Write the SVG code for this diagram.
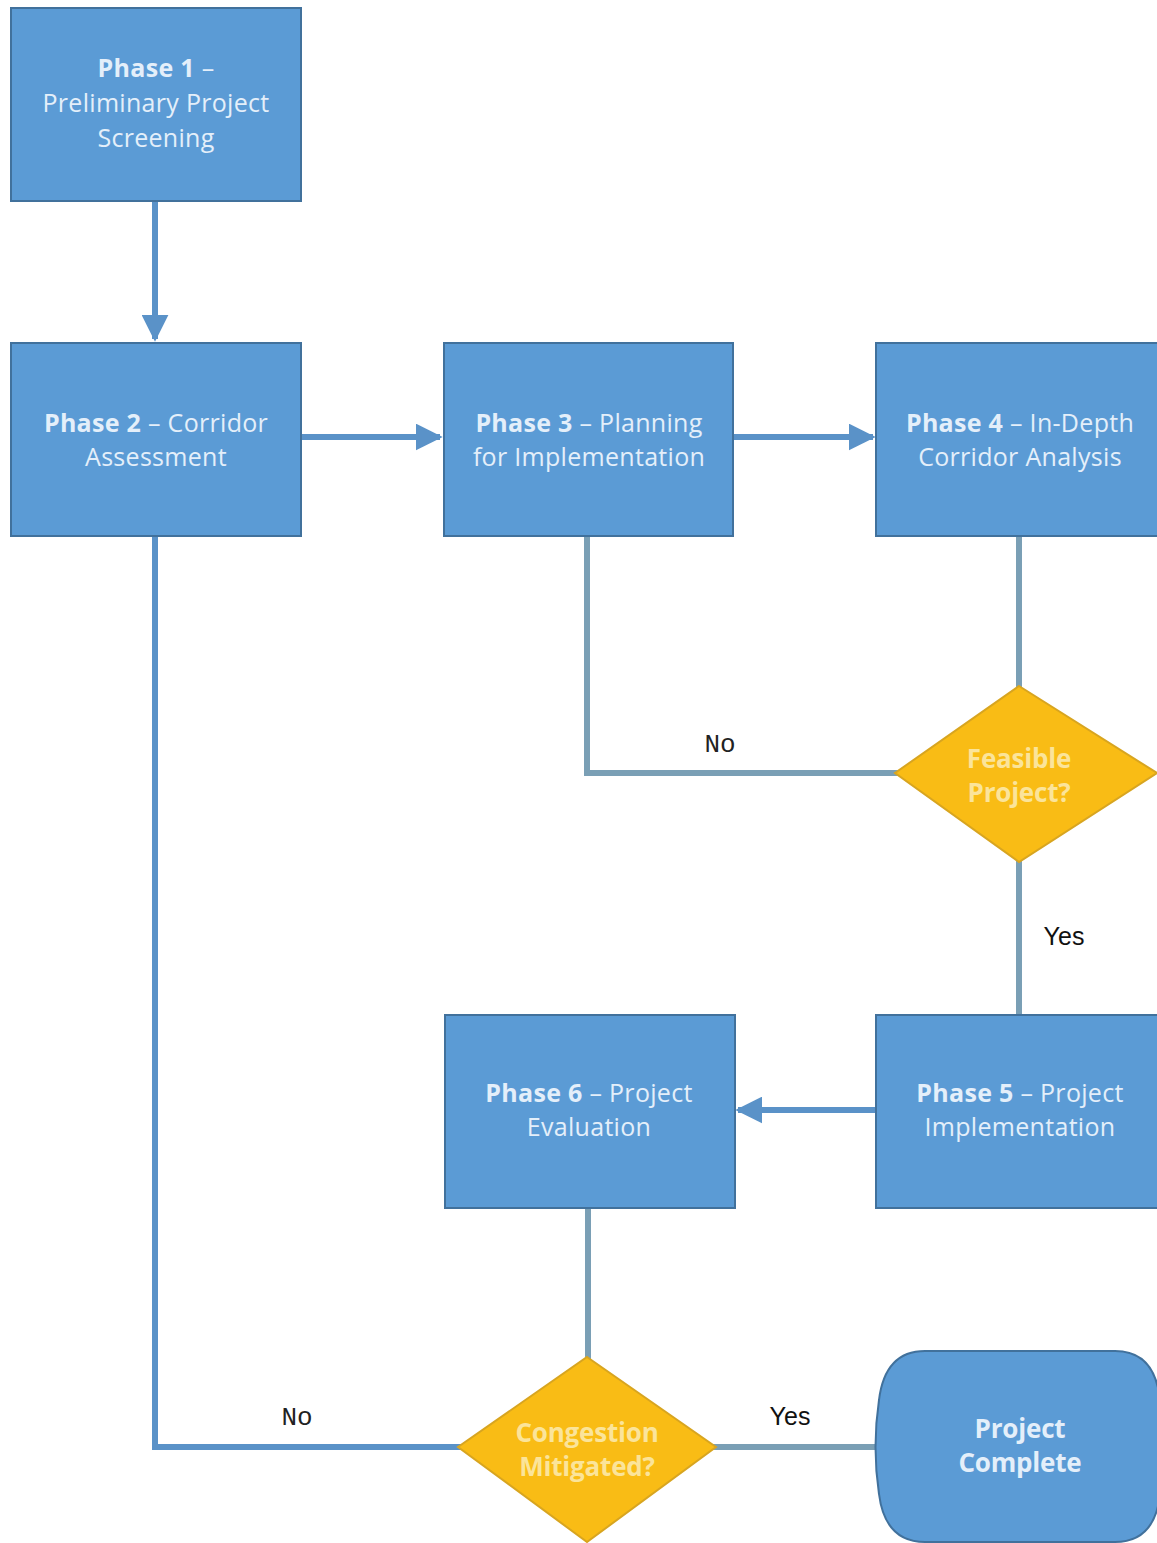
<svg xmlns="http://www.w3.org/2000/svg" width="1157" height="1543" viewBox="0 0 1157 1543">
<style>
.box{fill:#5B9BD5;stroke:#41719C;stroke-width:2}
.dia{fill:#F9BC15;stroke:#D8A520;stroke-width:2}
.t{font-family:"Open Sans","Noto Sans",sans-serif;font-size:25px;fill:#E4EFFA;text-anchor:middle;letter-spacing:0.3px}
.b{font-weight:bold}
.dt{font-family:"Open Sans","Noto Sans",sans-serif;font-size:26px;font-weight:bold;fill:#FBE49A;text-anchor:middle;letter-spacing:-0.2px}
.cb{stroke:#5A92C8;stroke-width:6;fill:none}
.cg{stroke:#7A9FB5;stroke-width:6;fill:none}
.lm{font-family:"Liberation Mono","DejaVu Sans Mono",monospace;font-size:26px;fill:#222}
.ls{font-family:"Liberation Sans",sans-serif;font-size:25px;fill:#111}
</style>
<defs>
<marker id="ah" viewBox="0 0 10 10" refX="9" refY="5" markerWidth="4.5" markerHeight="4.5" orient="auto" markerUnits="strokeWidth">
<path d="M0,0 L10,5 L0,10 z" fill="#5A92C8"/>
</marker>
</defs>
<rect width="1157" height="1543" fill="#FFFFFF"/>
<g id="connectors">
<line class="cb" x1="155" y1="201" x2="155" y2="339" marker-end="url(#ah)"/>
<line class="cb" x1="301" y1="437" x2="440" y2="437" marker-end="url(#ah)"/>
<line class="cb" x1="733" y1="437" x2="873" y2="437" marker-end="url(#ah)"/>
<line class="cg" x1="1019" y1="536" x2="1019" y2="692"/>
<polyline class="cg" points="903,773 587,773 587,536"/>
<line class="cg" x1="1019" y1="855" x2="1019" y2="1015"/>
<line class="cb" x1="876" y1="1110" x2="738" y2="1110" marker-end="url(#ah)"/>
<line class="cg" x1="588" y1="1208" x2="588" y2="1364"/>
<line class="cg" x1="708" y1="1447" x2="880" y2="1447"/>
<polyline class="cb" points="466,1447 155,1447 155,536"/>
<text class="lm" x="720" y="752" text-anchor="middle">No</text>
<text class="ls" x="1064" y="945" text-anchor="middle">Yes</text>
<text class="ls" x="790" y="1425" text-anchor="middle">Yes</text>
<text class="lm" x="297" y="1425" text-anchor="middle">No</text>
</g>
<g id="phase1">
<rect class="box" x="11" y="8" width="290" height="193"/>
<text class="t" x="156" y="77"><tspan class="b">Phase 1</tspan> –</text>
<text class="t" x="156" y="112">Preliminary Project</text>
<text class="t" x="156" y="147">Screening</text>
</g>
<g id="phase2">
<rect class="box" x="11" y="343" width="290" height="193"/>
<text class="t" x="156" y="432"><tspan class="b">Phase 2</tspan> – Corridor</text>
<text class="t" x="156" y="466">Assessment</text>
</g>
<g id="phase3">
<rect class="box" x="444" y="343" width="289" height="193"/>
<text class="t" x="589" y="432"><tspan class="b">Phase 3</tspan> – Planning</text>
<text class="t" x="589" y="466">for Implementation</text>
</g>
<g id="phase4">
<rect class="box" x="876" y="343" width="290" height="193"/>
<text class="t" x="1020" y="432"><tspan class="b">Phase 4</tspan> – In-Depth</text>
<text class="t" x="1020" y="466">Corridor Analysis</text>
</g>
<g id="feasible">
<polygon class="dia" points="1019,686 1157,773 1019,862 895,773"/>
<text class="dt" x="1019" y="768">Feasible</text>
<text class="dt" x="1019" y="802">Project?</text>
</g>
<g id="phase5">
<rect class="box" x="876" y="1015" width="290" height="193"/>
<text class="t" x="1020" y="1102"><tspan class="b">Phase 5</tspan> – Project</text>
<text class="t" x="1020" y="1136">Implementation</text>
</g>
<g id="phase6">
<rect class="box" x="445" y="1015" width="290" height="193"/>
<text class="t" x="589" y="1102"><tspan class="b">Phase 6</tspan> – Project</text>
<text class="t" x="589" y="1136">Evaluation</text>
</g>
<g id="congestion">
<polygon class="dia" points="587,1357 716,1447 587,1542 458,1447"/>
<text class="dt" x="587" y="1442">Congestion</text>
<text class="dt" x="587" y="1476">Mitigated?</text>
</g>
<g id="complete">
<path class="box" d="M925,1351 L1115,1351 Q1155,1351 1160,1400 Q1166,1447 1160,1494 Q1155,1542 1115,1542 L925,1542 Q885,1542 879,1494 Q872,1447 879,1400 Q885,1351 925,1351 Z"/>
<text class="dt" x="1020" y="1438" style="fill:#E4EFFA">Project</text>
<text class="dt" x="1020" y="1472" style="fill:#E4EFFA">Complete</text>
</g>
</svg>
